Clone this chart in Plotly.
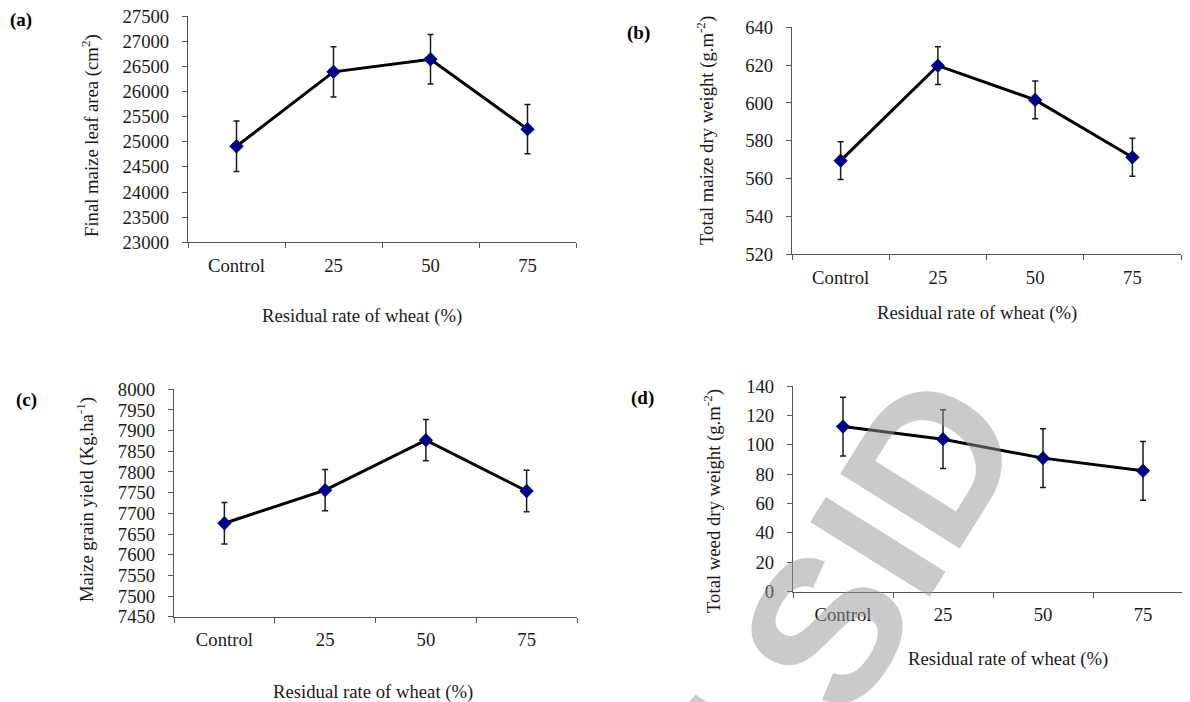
import plotly.graph_objects as go

W, H = 1190, 702
OFF = 8  # page body margin of the HTML page

categories = ["Control", "25", "50", "75"]

leaf_area = [24910, 26390, 26640, 25250]
leaf_area_err = [500, 500, 490, 490]

dry_weight = [569.5, 619.7, 601.6, 571.3]
dry_weight_err = [10, 10, 10, 10]

grain_yield = [7676, 7756, 7877, 7754]
grain_yield_err = [50, 50, 50, 50]

weed_weight = [112.4, 103.8, 90.9, 82.3]
weed_weight_err = [20, 20, 20, 20]

x_title = "Residual rate of wheat (%)"
panel_labels = ["(a)", "(b)", "(c)", "(d)"]
y_titles = [
    "Final maize leaf area (cm<sup>2</sup>)",
    "Total maize dry weight (g.m<sup>-2</sup>)",
    "Maize grain yield (Kg.ha<sup>-1</sup>)",
    "Total weed dry weight (g.m<sup>-2</sup>)",
]
y_ranges = [(23000, 27500, 500), (520, 640, 20), (7450, 8000, 50), (0, 140, 20)]

FONT = "Liberation Serif, Times New Roman, serif"
FS = 18.7
AXC = "#555555"
TXT = "#1a1a1a"


def px(x):
    return (x - OFF) / W


def py(y):
    return 1 - (y - OFF) / H


# pixel boxes in the reference picture: (left, right, top, bottom)
boxes = [
    (188, 576, 16, 242.3),
    (792, 1181, 27.3, 254.3),
    (174, 577, 389.3, 616.7),
    (793, 1193, 386, 591.7),
]

series = [
    (leaf_area, leaf_area_err),
    (dry_weight, dry_weight_err),
    (grain_yield, grain_yield_err),
    (weed_weight, weed_weight_err),
]

fig = go.Figure()
layout = dict(
    template="none",
    width=W, height=H, autosize=False,
    margin=dict(l=0, r=0, t=0, b=0, pad=0),
    paper_bgcolor="white", plot_bgcolor="white",
    showlegend=False,
    font=dict(family=FONT, size=FS, color=TXT),
)

annotations = []

for i, ((vals, errs), box, yr) in enumerate(zip(series, boxes, y_ranges)):
    n = "" if i == 0 else str(i + 1)
    l, r, t, b = box
    fig.add_trace(go.Scatter(
        x=categories, y=vals,
        xaxis="x" + n, yaxis="y" + n,
        mode="lines+markers",
        line=dict(color="black", width=3),
        marker=dict(symbol="diamond", size=11, color="#000080"),
        error_y=dict(type="data", array=errs, visible=True,
                     color=TXT, thickness=1.5, width=3),
        cliponaxis=False,
    ))
    layout["xaxis" + n] = dict(
        domain=[px(l), px(r)], anchor="y" + n,
        type="category", categoryorder="array", categoryarray=categories,
        range=[-0.5, 3.5], automargin=False,
        showline=True, linecolor=AXC, linewidth=1.2, mirror=False,
        ticks="outside", tickson="boundaries", ticklen=5, tickcolor=AXC,
        tickwidth=1,
        showgrid=False, zeroline=False,
        tickfont=dict(family=FONT, size=FS, color=TXT),
        ticklabelstandoff=6, ticklabeloverflow="allow",
    )
    layout["yaxis" + n] = dict(
        domain=[py(b), py(t)], anchor="x" + n,
        range=[yr[0], yr[1]], tick0=yr[0], dtick=yr[2], tickformat="d",
        automargin=False,
        showline=True, linecolor=AXC, linewidth=1.2, mirror=False,
        ticks="outside", ticklen=5, tickcolor=AXC, tickwidth=1,
        showgrid=False, zeroline=False,
        tickfont=dict(family=FONT, size=FS, color=TXT),
        ticklabelstandoff=9, ticklabeloverflow="allow",
    )

# titles / labels (reference pixel positions)
x_title_pos = [(362, 316), (977, 313), (373, 692), (1008, 659)]
y_title_pos = [(91, 136), (705, 131), (86, 500), (712, 501)]
label_pos = [(21, 20), (638, 33), (26, 400), (642, 398)]

for i in range(4):
    annotations.append(dict(
        text=x_title, x=px(x_title_pos[i][0]), y=py(x_title_pos[i][1]),
        xref="paper", yref="paper", xanchor="center", yanchor="middle",
        showarrow=False, font=dict(family=FONT, size=FS, color=TXT),
    ))
    annotations.append(dict(
        text=y_titles[i], x=px(y_title_pos[i][0]), y=py(y_title_pos[i][1]),
        xref="paper", yref="paper", xanchor="center", yanchor="middle",
        textangle=-90,
        showarrow=False, font=dict(family=FONT, size=FS, color=TXT),
    ))
    annotations.append(dict(
        text="<b>" + panel_labels[i] + "</b>",
        x=px(label_pos[i][0]), y=py(label_pos[i][1]),
        xref="paper", yref="paper", xanchor="center", yanchor="middle",
        showarrow=False, font=dict(family=FONT, size=19, color="black"),
    ))

# source watermark
annotations.append(dict(
    text="<b>f SID</b>", x=px(846), y=py(595),
    xref="paper", yref="paper", xanchor="center", yanchor="middle",
    textangle=-58, showarrow=False,
    font=dict(family="Liberation Sans, Arial, sans-serif", size=205,
              color="rgba(150,150,150,0.5)"),
))

layout["annotations"] = annotations
fig.update_layout(**layout)
fig.write_html("out.html")
